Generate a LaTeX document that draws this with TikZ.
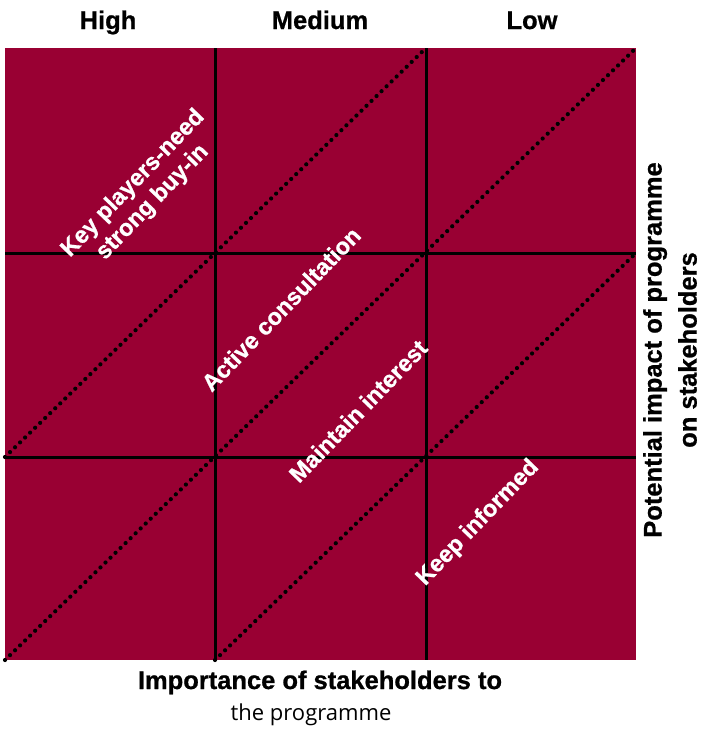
\documentclass[tikz,border=0pt]{standalone}
\usepackage{fontspec}
\setmainfont{Liberation Sans}
\newfontfamily\heavysans[FakeBold=0.8]{Liberation Sans Bold}
\newfontfamily\plainsans{Open Sans}
\definecolor{matrixred}{HTML}{990033}

\begin{document}
\begin{tikzpicture}[x=1pt,y=-1pt,
  head/.style={font=\heavysans\fontsize{25.5}{35}\selectfont, inner sep=0pt},
  zone/.style={font=\heavysans\fontsize{23.5}{27}\selectfont, text=white,
    rotate=46, align=center, inner sep=0pt},
  gridline/.style={line width=3pt},
  split/.style={line width=4.2pt, dash pattern=on 0pt off 7pt, line cap=round}]
  \useasboundingbox (0,0) rectangle (701,745);

  % the matrix
  \fill[matrixred] (5,48) rectangle (636,660);
  \coordinate (c1top) at (215,48);
  \coordinate (c1bot) at (215,660);
  \coordinate (c2top) at (426,48);
  \coordinate (c2bot) at (426,660);
  \coordinate (r1left) at (5,253);
  \coordinate (r1right) at (636,253);
  \coordinate (r2left) at (5,457);
  \coordinate (r2right) at (636,457);
  \coordinate (sw) at (5,660);
  \coordinate (ne) at (636,48);
  \draw[gridline] (c1top) -- (c1bot);
  \draw[gridline] (c2top) -- (c2bot);
  \draw[gridline] (r1left) -- (r1right);
  \draw[gridline] (r2left) -- (r2right);

  % bands
  \draw[split] (r2left) -- (c2top);
  \draw[split] (sw) -- (ne);
  \draw[split] (c1bot) -- (r1right);

  \node[zone] (keyplayers) at (143,193) {Key players-need\\strong buy-in};
  \node[zone] (consult) at (281,309) {Active consultation};
  \node[zone] (maintain) at (358,411) {Maintain interest};
  \node[zone] (informed) at (478,523) {Keep informed};

  % axes
  \node[head, anchor=base] (high) at (108,29) {High};
  \node[head, anchor=base] (medium) at (320,29) {Medium};
  \node[head, anchor=base] (low) at (532,29) {Low};
  \node[head, anchor=base] (importance) at (320,689) {Importance of stakeholders to};
  \node[font=\plainsans\fontsize{22}{26}\selectfont, anchor=base] (programme) at (311,720) {the programme};
  \node[head, rotate=90, align=center] (impact) at (670,350) {Potential impact of programme\\on stakeholders};
\end{tikzpicture}
\end{document}
